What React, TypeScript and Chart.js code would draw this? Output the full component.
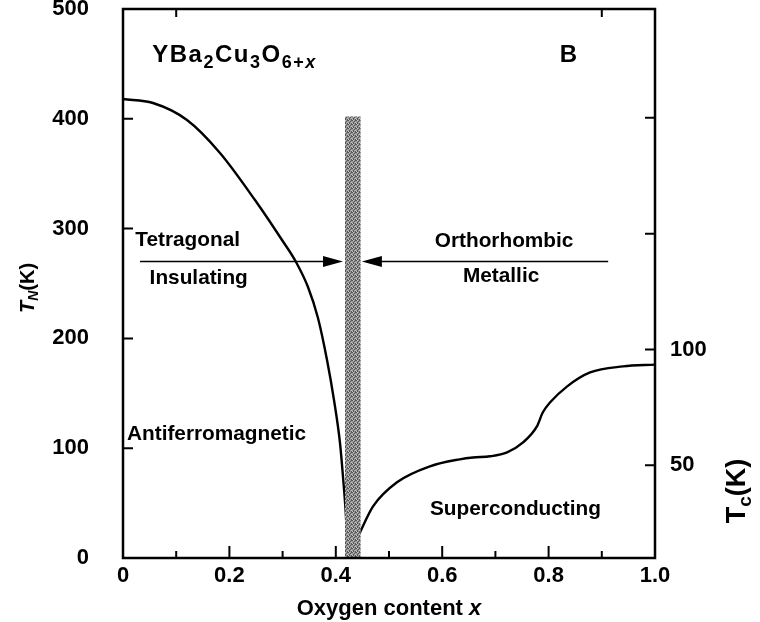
import { useEffect, useRef } from 'react';
import { Chart, registerables } from 'chart.js';

Chart.register(...registerables);

// Néel temperature of the antiferromagnetic phase versus oxygen content
const TN_X = [0, 0.0564, 0.1203, 0.1823, 0.2481, 0.2989, 0.3252, 0.3477, 0.3665, 0.3835, 0.3966, 0.4079, 0.4145, 0.4192, 0.422, 0.4226];
const TN_K = [418, 414.4, 398.9, 368.9, 326, 289.6, 269.6, 246.8, 218.6, 180.3, 143.9, 104.7, 68.3, 37.3, 7.3, 0];

// Superconducting transition temperature versus oxygen content
const TC_X = [0.442, 0.47, 0.515, 0.577, 0.633, 0.658, 0.69, 0.722, 0.752, 0.778, 0.789, 0.803, 0.835, 0.878, 0.94, 1.0];
const TC_K = [19.4, 32.3, 42.7, 49.6, 52.6, 53.4, 53.9, 55.6, 59.9, 66.8, 72.8, 77.2, 84.1, 90.1, 92.7, 93.5];

// Tetragonal/orthorhombic transition band
const BAND_X = [0.417, 0.447];
const BAND_TOP = 402;

// Axis ticks
const X_TICKS = [0, 0.2, 0.4, 0.6, 0.8, 1.0];
const X_TICK_LABELS = ['0', '0.2', '0.4', '0.6', '0.8', '1.0'];
const X_MINOR_TICKS = [0.1, 0.3, 0.5, 0.7, 0.9];
const X_TOP_TICKS = [0.1, 0.9];
const TN_TICKS = [0, 100, 200, 300, 400, 500];
const TN_TICK_LABELS = ['0', '100', '200', '300', '400', '500'];
const TC_TICKS = [50, 100];
const TC_TICK_LABELS = ['50', '100'];
const TC_TICK_MARKS = [50, 100, 150, 200];
const TC_RANGE = [10, 247];

// Text drawn inside the plot
type Run = { text: string; size: number; dy?: number; italic?: boolean };
const FORMULA: Run[] = [
  { text: 'YBa', size: 24 },
  { text: '2', size: 18, dy: 6 },
  { text: 'Cu', size: 24 },
  { text: '3', size: 18, dy: 6 },
  { text: 'O', size: 24 },
  { text: '6+', size: 18, dy: 6 },
  { text: 'x', size: 18, dy: 6, italic: true },
];
const PANEL_LETTER = 'B';
const REGION_LABELS = ['Tetragonal', 'Insulating', 'Orthorhombic', 'Metallic', 'Antiferromagnetic', 'Superconducting'];
// anchor of each region label (left edge x, baseline in T_N units)
const REGION_ANCHORS: [number, number][] = [
  [0.023, 284], [0.05, 249.5], [0.586, 283], [0.639, 251], [0.0075, 107.5], [0.577, 39],
];
const FORMULA_ANCHOR: [number, number] = [0.055, 452];
const LETTER_ANCHOR: [number, number] = [0.821, 452];

// Phase boundary arrows (tail x, tip x) at a common level
const ARROW_LEVEL = 270;
const ARROWS: [number, number][] = [[0.032, 0.4135], [0.912, 0.449]];

const FAMILY = '"Liberation Sans", Arial, Helvetica, sans-serif';
const fontOf = (size: number, italic = false) => `${italic ? 'italic ' : ''}bold ${size}px ${FAMILY}`;

function drawRuns(
  ctx: CanvasRenderingContext2D,
  runs: Run[],
  x: number,
  y: number,
  align: 'left' | 'center',
  spacing = 0,
) {
  const c = ctx as any;
  c.letterSpacing = `${spacing}px`;
  let total = 0;
  for (const r of runs) {
    ctx.font = fontOf(r.size, r.italic);
    total += ctx.measureText(r.text).width;
  }
  let cx = align === 'center' ? x - total / 2 : x;
  ctx.textAlign = 'left';
  ctx.textBaseline = 'alphabetic';
  for (const r of runs) {
    ctx.font = fontOf(r.size, r.italic);
    ctx.fillText(r.text, cx, y + (r.dy || 0));
    cx += ctx.measureText(r.text).width;
  }
  c.letterSpacing = '0px';
}

function makeBandPattern(): CanvasPattern | string {
  const c = document.createElement('canvas');
  c.width = 4;
  c.height = 4;
  const g = c.getContext('2d');
  if (!g) return '#8a8a8a';
  g.fillStyle = '#9a9a9a';
  g.fillRect(0, 0, 4, 4);
  g.fillStyle = '#555555';
  [[0, 0], [2, 1], [1, 2], [3, 3], [3, 0], [1, 3]].forEach(([px, py]) => g.fillRect(px, py, 1, 1));
  g.fillStyle = '#c4c4c4';
  [[1, 0], [3, 2], [0, 3]].forEach(([px, py]) => g.fillRect(px, py, 1, 1));
  const p = g.createPattern(c, 'repeat');
  return p || '#8a8a8a';
}

const decorations = {
  id: 'phaseDiagramDecor',
  afterDatasetsDraw(chart: any) {
    const { ctx, chartArea: a, scales } = chart;
    const sx = scales.x;
    const sy = scales.y;
    const sy2 = scales.y2;
    ctx.save();
    ctx.strokeStyle = '#000';
    ctx.fillStyle = '#000';

    // frame
    ctx.lineWidth = 2.5;
    ctx.strokeRect(a.left, a.top, a.right - a.left, a.bottom - a.top);

    // inward tick marks
    ctx.lineWidth = 2;
    ctx.beginPath();
    X_TICKS.filter((v) => v > 0 && v < 1).forEach((v) => {
      const px = sx.getPixelForValue(v);
      ctx.moveTo(px, a.bottom);
      ctx.lineTo(px, a.bottom - 12);
    });
    X_MINOR_TICKS.forEach((v) => {
      const px = sx.getPixelForValue(v);
      ctx.moveTo(px, a.bottom);
      ctx.lineTo(px, a.bottom - 7);
    });
    X_TOP_TICKS.forEach((v) => {
      const px = sx.getPixelForValue(v);
      ctx.moveTo(px, a.top);
      ctx.lineTo(px, a.top + 8);
    });
    TN_TICKS.filter((v) => v > 0 && v < 500).forEach((v) => {
      const py = sy.getPixelForValue(v);
      ctx.moveTo(a.left, py);
      ctx.lineTo(a.left + 10, py);
    });
    TC_TICK_MARKS.forEach((v) => {
      const py = sy2.getPixelForValue(v);
      ctx.moveTo(a.right, py);
      ctx.lineTo(a.right - 10, py);
    });
    ctx.stroke();

    // arrows
    const ay = sy.getPixelForValue(ARROW_LEVEL);
    ctx.lineWidth = 1.6;
    ARROWS.forEach(([tail, tip]) => {
      const x0 = sx.getPixelForValue(tail);
      const x1 = sx.getPixelForValue(tip);
      const dir = Math.sign(x1 - x0);
      ctx.beginPath();
      ctx.moveTo(x0, ay);
      ctx.lineTo(x1 - dir * 18, ay);
      ctx.stroke();
      ctx.beginPath();
      ctx.moveTo(x1, ay);
      ctx.lineTo(x1 - dir * 20, ay - 5.5);
      ctx.lineTo(x1 - dir * 20, ay + 5.5);
      ctx.closePath();
      ctx.fill();
    });

    // formula and panel letter
    drawRuns(ctx, FORMULA, sx.getPixelForValue(FORMULA_ANCHOR[0]), sy.getPixelForValue(FORMULA_ANCHOR[1]), 'left', 1.5);
    drawRuns(ctx, [{ text: PANEL_LETTER, size: 24 }], sx.getPixelForValue(LETTER_ANCHOR[0]), sy.getPixelForValue(LETTER_ANCHOR[1]), 'left');

    // region labels
    REGION_LABELS.forEach((t, i) => {
      const [vx, vy] = REGION_ANCHORS[i];
      drawRuns(ctx, [{ text: t, size: 20.8 }], sx.getPixelForValue(vx), sy.getPixelForValue(vy), 'left');
    });

    // axis titles
    drawRuns(
      ctx,
      [
        { text: 'Oxygen content ', size: 22 },
        { text: 'x', size: 22, italic: true },
      ],
      (a.left + a.right) / 2,
      615,
      'center',
    );

    ctx.save();
    ctx.translate(34, 288);
    ctx.rotate(-Math.PI / 2);
    drawRuns(
      ctx,
      [
        { text: 'T', size: 20, italic: true },
        { text: 'N', size: 14, dy: 4, italic: true },
        { text: '(K)', size: 20 },
      ],
      0,
      0,
      'center',
    );
    ctx.restore();

    ctx.save();
    ctx.translate(745, 491);
    ctx.rotate(-Math.PI / 2);
    drawRuns(
      ctx,
      [
        { text: 'T', size: 27 },
        { text: 'c', size: 19, dy: 6 },
        { text: '(K)', size: 27 },
      ],
      0,
      0,
      'center',
    );
    ctx.restore();

    ctx.restore();
  },
};

export default function App() {
  const canvasRef = useRef<HTMLCanvasElement | null>(null);

  useEffect(() => {
    const canvas = canvasRef.current;
    if (!canvas) return;
    const tickFont = { family: FAMILY, size: 22, weight: 'bold' as const };

    const chart = new Chart(canvas, {
      type: 'line',
      data: {
        datasets: [
          {
            label: 'transition',
            data: BAND_X.map((x) => ({ x, y: BAND_TOP })),
            yAxisID: 'y',
            borderWidth: 0,
            borderColor: 'rgba(0,0,0,0)',
            backgroundColor: makeBandPattern() as any,
            fill: 'origin',
            pointRadius: 0,
          },
          {
            label: 'T_N',
            data: TN_X.map((x, i) => ({ x, y: TN_K[i] })),
            yAxisID: 'y',
            borderColor: '#000',
            borderWidth: 2.4,
            pointRadius: 0,
            fill: false,
            cubicInterpolationMode: 'monotone',
          },
          {
            label: 'T_c',
            data: TC_X.map((x, i) => ({ x, y: TC_K[i] })),
            yAxisID: 'y2',
            borderColor: '#000',
            borderWidth: 2.4,
            pointRadius: 0,
            fill: false,
            cubicInterpolationMode: 'monotone',
          },
        ],
      },
      options: {
        animation: false,
        responsive: false,
        devicePixelRatio: 1,
        layout: { padding: { top: 9, left: 0, right: 0, bottom: 0 } },
        plugins: {
          legend: { display: false },
          tooltip: { enabled: false },
        },
        scales: {
          x: {
            type: 'linear',
            position: 'bottom',
            min: 0,
            max: 1,
            grid: { display: false, drawTicks: false },
            border: { display: false },
            ticks: {
              autoSkip: false,
              maxRotation: 0,
              padding: 5,
              color: '#000',
              font: tickFont,
              callback: (_v: any, i: number) => X_TICK_LABELS[i],
            },
            afterBuildTicks: (s: any) => {
              s.ticks = X_TICKS.map((value) => ({ value }));
            },
            afterFit: (s: any) => {
              s.height = 64;
              s.paddingLeft = 0;
              s.paddingRight = 0;
            },
          },
          y: {
            type: 'linear',
            position: 'left',
            min: 0,
            max: 500,
            grid: { display: false, drawTicks: false },
            border: { display: false },
            ticks: {
              padding: 34,
              color: '#000',
              font: tickFont,
              callback: (_v: any, i: number) => TN_TICK_LABELS[i],
            },
            afterBuildTicks: (s: any) => {
              s.ticks = TN_TICKS.map((value) => ({ value }));
            },
            afterFit: (s: any) => {
              s.width = 123;
              s.paddingTop = 0;
              s.paddingBottom = 0;
            },
          },
          y2: {
            type: 'linear',
            position: 'right',
            min: TC_RANGE[0],
            max: TC_RANGE[1],
            grid: { display: false, drawTicks: false },
            border: { display: false },
            ticks: {
              padding: 15,
              color: '#000',
              font: tickFont,
              callback: (_v: any, i: number) => TC_TICK_LABELS[i],
            },
            afterBuildTicks: (s: any) => {
              s.ticks = TC_TICKS.map((value) => ({ value }));
            },
            afterFit: (s: any) => {
              s.width = 105;
              s.paddingTop = 0;
              s.paddingBottom = 0;
            },
          },
        },
      },
      plugins: [decorations],
    });

    return () => chart.destroy();
  }, []);

  return (
    <div style={{ position: 'fixed', left: 0, top: 0, width: 760, height: 622, background: '#fff' }}>
      <canvas ref={canvasRef} width={760} height={622} style={{ display: 'block', width: 760, height: 622 }} />
    </div>
  );
}
